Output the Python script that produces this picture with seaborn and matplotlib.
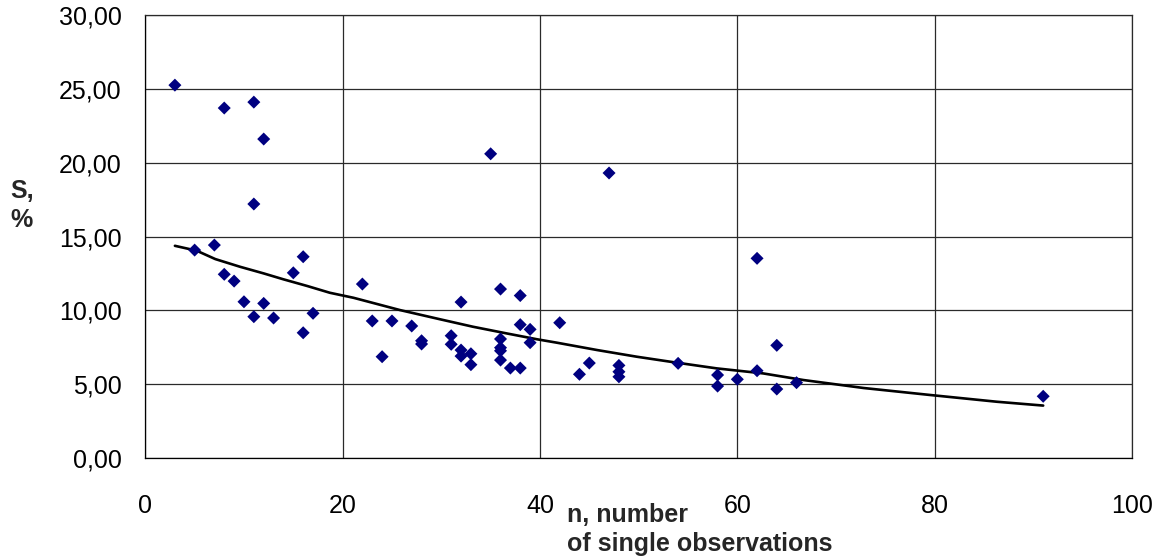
import matplotlib
matplotlib.use("Agg")
import matplotlib.pyplot as plt
from matplotlib.ticker import FuncFormatter
import seaborn as sns
import pandas as pd

# observed points: n (number of single observations) vs S, %
n_obs = [3, 5, 7, 8, 8, 9, 10, 11, 11, 11, 12, 12, 13, 15, 16, 16, 17,
         22, 23, 24, 25, 27, 28, 28, 31, 31, 32, 32, 32, 33, 33, 35,
         36, 36, 36, 36, 36, 37, 38, 38, 38, 39, 39, 42, 44, 45, 47,
         48, 48, 48, 54, 58, 58, 60, 62, 62, 64, 64, 66, 91]
s_obs = [25.25, 14.08, 14.42, 23.70, 12.44, 11.98, 10.58, 24.10, 17.20, 9.57,
         21.60, 10.47, 9.48, 12.54, 13.63, 8.48, 9.80,
         11.78, 9.28, 6.86, 9.28, 8.94, 7.94, 7.72, 8.28, 7.70, 10.56, 7.31, 6.90,
         7.06, 6.32, 20.60,
         11.44, 8.06, 7.47, 7.26, 6.63, 6.09, 11.00, 9.03, 6.09, 8.71, 7.81,
         9.16, 5.67, 6.43, 19.30,
         6.27, 5.84, 5.50, 6.41, 5.62, 4.87, 5.33, 5.91, 13.52, 7.63, 4.67,
         5.10, 4.18]

# trend line
trend_n = [3, 5.2, 7.1, 9.6, 12, 14, 16.4, 18.7, 21.1, 25.8, 29.9, 33.2, 36.6,
           39.7, 41.7, 45.8, 49.8, 53.2, 57.9, 62.6, 66.7, 72.8, 79.5, 86.3, 91]
trend_s = [14.37, 14.04, 13.47, 12.95, 12.50, 12.10, 11.65, 11.19, 10.85, 10.02,
           9.39, 8.89, 8.44, 8.04, 7.81, 7.31, 6.86, 6.52, 6.07, 5.73, 5.28,
           4.74, 4.27, 3.81, 3.55]

x_ticks = [0, 20, 40, 60, 80, 100]
y_ticks = [0, 5, 10, 15, 20, 25, 30]

pts = pd.DataFrame({"n": n_obs, "S": s_obs})
trend = pd.DataFrame({"n": trend_n, "S": trend_s})

sns.set_style("white")
plt.rcParams["font.family"] = ["Liberation Sans", "DejaVu Sans"]

W, H = 1159, 558
fig = plt.figure(figsize=(W / 100, H / 100), dpi=100)
ax = fig.add_axes([145.3 / W, 1 - 458 / H, (1132 - 145.3) / W, (458 - 15) / H])

sns.lineplot(data=trend, x="n", y="S", ax=ax, color="black", linewidth=1.9,
             sort=False, estimator=None, zorder=3)
sns.scatterplot(data=pts, x="n", y="S", ax=ax, marker="D", s=44,
                color="#000080", edgecolor="none", linewidth=0, zorder=4)

ax.set_xlim(0, 100)
ax.set_ylim(0, 30)
ax.set_xticks(x_ticks)
ax.set_yticks(y_ticks)
ax.yaxis.set_major_formatter(FuncFormatter(lambda v, p: f"{v:.2f}".replace(".", ",")))
ax.xaxis.set_major_formatter(FuncFormatter(lambda v, p: f"{int(v)}"))
ax.grid(True, color="#2a2a2a", linewidth=0.9)
ax.set_axisbelow(True)
for sp in ax.spines.values():
    sp.set_color("#2a2a2a")
    sp.set_linewidth(0.9)
ax.spines["left"].set_color("black")
ax.spines["bottom"].set_color("black")
ax.tick_params(axis="both", which="major", direction="out", length=4.5, width=0.9,
               color="black", labelsize=18, labelcolor="black")
ax.tick_params(axis="x", pad=21.5)
ax.tick_params(axis="y", pad=12.5)
ax.set_xlabel("")
ax.set_ylabel("")

# axis titles, placed where the reference shows them
fig.text(567 / W, 1 - 522 / H, "n, number", ha="left", va="baseline",
         fontsize=18, fontweight="bold")
fig.text(567 / W, 1 - 551 / H, "of single observations", ha="left", va="baseline",
         fontsize=18, fontweight="bold")
fig.text(10 / W, 1 - 198 / H, "S,", ha="left", va="baseline",
         fontsize=18, fontweight="bold")
fig.text(10 / W, 1 - 227 / H, "%", ha="left", va="baseline",
         fontsize=18, fontweight="bold")

fig.savefig("out.png", dpi=100, facecolor="white")
